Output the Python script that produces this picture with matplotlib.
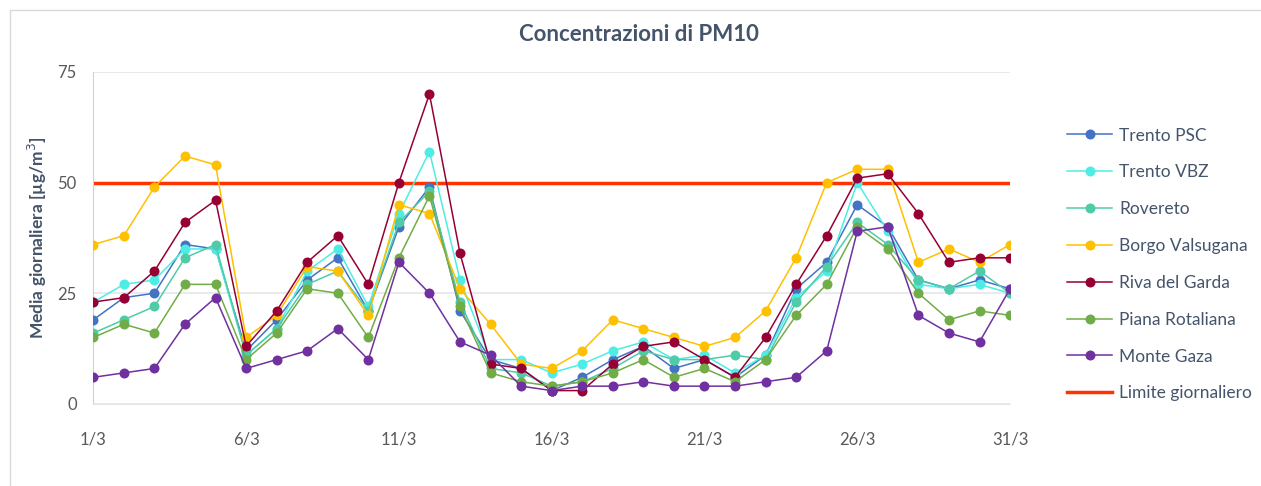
import numpy as np
import matplotlib.pyplot as plt
from matplotlib.patches import Rectangle

# Days of March
days = list(range(1, 32))
tick_days = [1, 6, 11, 16, 21, 26, 31]
tick_labels = [f"{d}/3" for d in tick_days]

trento_psc = [19, 24, 25, 36, 35, 12, 19, 28, 33, 21, 40, 49, 21, 10, 8, 3, 6, 10, 13, 8, 10, 6, 11, 26, 32, 45, 40, 28, 26, 28, 26]
trento_vbz = [23, 27, 28, 35, 35, 11, 17, 30, 35, 22, 43, 57, 28, 10, 10, 7, 9, 12, 14, 10, 11, 7, 11, 24, 30, 50, 39, 27, 26, 27, 25]
rovereto = [16, 19, 22, 33, 36, 11, 17, 27, 30, 21, 41, 48, 23, 8, 7, 4, 5, 8, 12, 10, 10, 11, 10, 23, 31, 41, 36, 28, 26, 30, 25]
borgo = [36, 38, 49, 56, 54, 15, 20, 31, 30, 20, 45, 43, 26, 18, 9, 8, 12, 19, 17, 15, 13, 15, 21, 33, 50, 53, 53, 32, 35, 32, 36]
riva = [23, 24, 30, 41, 46, 13, 21, 32, 38, 27, 50, 70, 34, 9, 8, 3, 3, 9, 13, 14, 10, 6, 15, 27, 38, 51, 52, 43, 32, 33, 33]
piana = [15, 18, 16, 27, 27, 10, 16, 26, 25, 15, 33, 47, 22, 7, 5, 4, 5, 7, 10, 6, 8, 5, 10, 20, 27, 40, 35, 25, 19, 21, 20]
monte_gaza = [6, 7, 8, 18, 24, 8, 10, 12, 17, 10, 32, 25, 14, 11, 4, 3, 4, 4, 5, 4, 4, 4, 5, 6, 12, 39, 40, 20, 16, 14, 26]
limit = 50

series = [
    ("Trento PSC", trento_psc, "#4472C4"),
    ("Trento VBZ", trento_vbz, "#4DEDE6"),
    ("Rovereto", rovereto, "#4FCBA8"),
    ("Borgo Valsugana", borgo, "#FFC000"),
    ("Riva del Garda", riva, "#960034"),
    ("Piana Rotaliana", piana, "#70AD47"),
    ("Monte Gaza", monte_gaza, "#7030A0"),
]

plt.rcParams['font.family'] = ['Lato', 'DejaVu Sans']
text_col = '#44546A'
tick_col = '#595959'

fig = plt.figure(figsize=(12.61, 4.86), dpi=100)
ax = fig.add_axes([0.074, 0.169, 0.727, 0.683])

# outer chart border
fig.patches.append(Rectangle((10 / 1261, -0.1), 1.2, 1.1 - 10 / 486,
                             transform=fig.transFigure, fill=False,
                             edgecolor='#D9D9D9', linewidth=1))

for name, vals, col in series:
    ax.plot(days, vals, color=col, linewidth=1.1, marker='o', markersize=7.2,
            markeredgewidth=0, label=name, zorder=3)

ax.plot([days[0], days[-1]], [limit, limit], color='#FF3300', linewidth=2.5,
        label='Limite giornaliero', zorder=2)

ax.set_xlim(1, 31)
ax.set_ylim(0, 75)
ax.set_yticks([0, 25, 50, 75])
ax.set_xticks(tick_days)
ax.set_xticklabels(tick_labels)
ax.grid(axis='y', color='#E6E6EA', linewidth=1.2)
ax.set_axisbelow(True)
for s in ['top', 'right']:
    ax.spines[s].set_visible(False)
ax.spines['left'].set_color('#C9D3E0')
ax.spines['bottom'].set_color('#E6E6EA')
ax.tick_params(axis='y', length=0, pad=12, labelsize=12, labelcolor=tick_col)
ax.tick_params(axis='x', length=0, pad=20, labelsize=12, labelcolor=tick_col)

ax.set_ylabel('Media giornaliera [µg/m$^3$]', fontsize=12.5, fontweight='bold',
              color=text_col, labelpad=6)
fig.text(0.507, 0.93, 'Concentrazioni di PM10', ha='center', va='center',
         fontsize=16, fontweight='bold', color=text_col)

ax.legend(loc='center left', bbox_to_anchor=(1.045, 0.42), frameon=False,
          fontsize=12.5, labelcolor=text_col, handlelength=2.6,
          labelspacing=1.2, handletextpad=0.4)

fig.savefig('out.png', dpi=100)
